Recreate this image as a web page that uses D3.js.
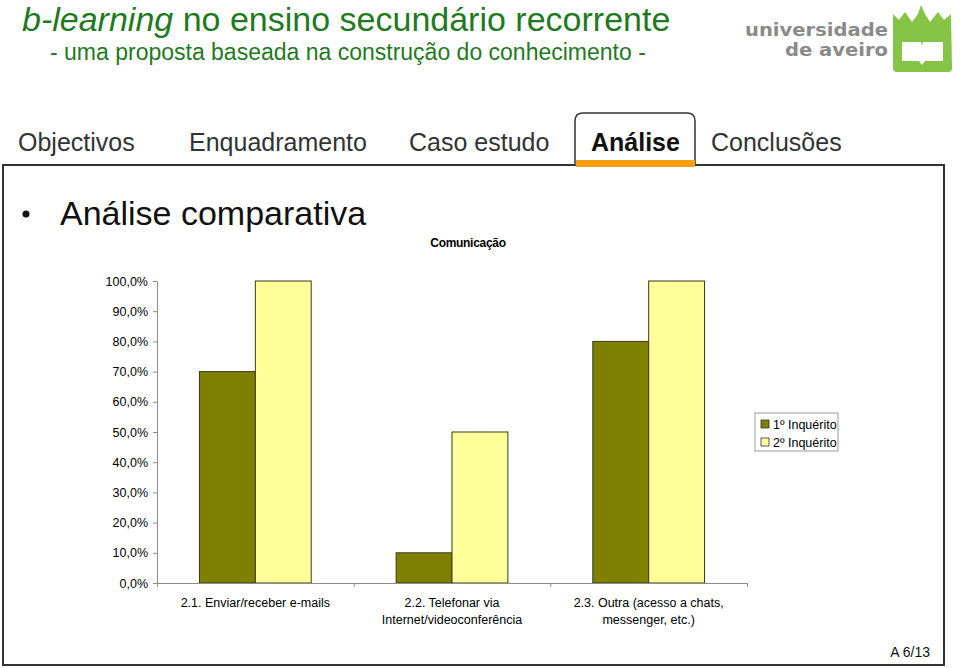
<!DOCTYPE html>
<html>
<head>
<meta charset="utf-8">
<script src="https://cdn.jsdelivr.net/npm/d3@7"></script>
<style>
  html, body { margin: 0; padding: 0; background: #fff; }
  svg { display: block; font-family: "Liberation Sans", Arial, sans-serif; }
</style>
</head>
<body>
<svg id="slide" width="960" height="668"></svg>
<script>
// dados do gráfico
const categories = [
  ["2.1. Enviar/receber e-mails"],
  ["2.2. Telefonar via", "Internet/videoconferência"],
  ["2.3. Outra (acesso a chats,", "messenger, etc.)"]
];
const seriesNames = ["1º Inquérito", "2º Inquérito"];
const inquerito1 = [0.70, 0.10, 0.80];
const inquerito2 = [1.00, 0.50, 1.00];
const yTicks = [0, 0.1, 0.2, 0.3, 0.4, 0.5, 0.6, 0.7, 0.8, 0.9, 1.0];
const navItems = ["Objectivos", "Enquadramento", "Caso estudo", "Análise", "Conclusões"];
const chartTitle = "Comunicação";

const colors = ["#808000", "#ffff99"];
const svg = d3.select("#slide");

// --- cabeçalho ---
const title = svg.append("text")
  .attr("x", 22).attr("y", 31)
  .attr("font-size", 34).attr("fill", "#1f7a1f");
title.append("tspan").attr("font-style", "italic").text("b-learning");
title.append("tspan").text(" no ensino secundário recorrente");

svg.append("text")
  .attr("x", 50).attr("y", 60)
  .attr("font-size", 23).attr("fill", "#1f7a1f")
  .text("- uma proposta baseada na construção do conhecimento -");

// logotipo (simplificado)
svg.append("text")
  .attr("x", 888).attr("y", 36).attr("text-anchor", "end")
  .attr("font-family", "DejaVu Sans").attr("font-weight", "bold")
  .attr("font-size", 17).attr("fill", "#8a8a8a")
  .attr("textLength", 143).attr("lengthAdjust", "spacingAndGlyphs")
  .text("universidade");
svg.append("text")
  .attr("x", 888).attr("y", 56).attr("text-anchor", "end")
  .attr("font-family", "DejaVu Sans").attr("font-weight", "bold")
  .attr("font-size", 17).attr("fill", "#8a8a8a")
  .attr("textLength", 103).attr("lengthAdjust", "spacingAndGlyphs")
  .text("de aveiro");

svg.append("path")
  .attr("d", "M893,14 L899,20 L905,12 L912,22 L918,14 L921,5 L925,14 L930,22 L938,12 L944,20 L951,14 " +
             "L952,68 Q952,72 948,72 L897,72 Q893,72 893,68 Z")
  .attr("fill", "#85c446");
svg.append("path")
  .attr("d", "M902,42 L921,42 L922,46 L923,42 L943,42 L943,61 L925,61 L922,65 L919,61 L902,61 Z")
  .attr("fill", "#fff");

// --- moldura e navegação ---
svg.append("rect")
  .attr("x", 3).attr("y", 165).attr("width", 941).attr("height", 500)
  .attr("fill", "none").attr("stroke", "#333").attr("stroke-width", 2);

svg.append("path")
  .attr("d", "M575,165 L575,121 Q575,113 583,113 L687,113 Q695,113 695,121 L695,165")
  .attr("fill", "#fff").attr("stroke", "#333").attr("stroke-width", 1.5);
svg.append("rect")
  .attr("x", 576).attr("y", 160).attr("width", 119).attr("height", 7)
  .attr("fill", "#f5a012");

const navX = [18, 189, 409, 591, 711];
navItems.forEach((d, i) => {
  svg.append("text")
    .attr("x", navX[i]).attr("y", 151)
    .attr("font-size", 25)
    .attr("font-weight", d === "Análise" ? "bold" : "normal")
    .attr("fill", d === "Análise" ? "#111" : "#333")
    .text(d);
});

// marcador
svg.append("circle").attr("cx", 26).attr("cy", 214).attr("r", 3.5).attr("fill", "#111");
svg.append("text")
  .attr("x", 60).attr("y", 225)
  .attr("font-size", 34).attr("fill", "#111")
  .text("Análise comparativa");

// --- gráfico ---
const chart = svg.append("g").attr("font-size", 12.5).attr("fill", "#000");

const y = d3.scaleLinear().domain([0, 1]).range([583, 281]);
const x0 = d3.scaleBand().domain(d3.range(categories.length)).range([157, 747]);
const x1 = d3.scaleBand().domain(d3.range(seriesNames.length))
  .range([0, x0.bandwidth()]).paddingOuter(0.76);
const xEdge = d3.scaleLinear().domain([0, categories.length]).range([157, 747]);

chart.append("text")
  .attr("x", 468).attr("y", 247).attr("text-anchor", "middle")
  .attr("font-weight", "bold").attr("font-size", 12).attr("letter-spacing", -0.3)
  .text(chartTitle);

// eixo y
const yAxis = chart.append("g")
  .attr("transform", "translate(157,0)")
  .call(d3.axisLeft(y).tickValues(yTicks).tickSize(4).tickSizeOuter(0)
    .tickFormat(d => d3.format(".1f")(d * 100).replace(".", ",") + "%"));
yAxis.selectAll("path, line").attr("stroke", "#8c8c8c");
yAxis.selectAll("text")
  .attr("font-family", "Liberation Sans, Arial, sans-serif")
  .attr("font-size", 12.5).attr("fill", "#000").attr("x", -9);

// barras
const allSeries = [inquerito1, inquerito2];
const groups = chart.append("g").selectAll("g")
  .data(categories.map((c, i) => i))
  .join("g")
  .attr("transform", i => `translate(${x0(i)},0)`);

groups.selectAll("rect")
  .data(i => allSeries.map((s, k) => ({ k: k, v: s[i] })))
  .join("rect")
  .attr("x", d => x1(d.k))
  .attr("width", x1.bandwidth())
  .attr("y", d => y(d.v))
  .attr("height", d => y(0) - y(d.v))
  .attr("fill", d => colors[d.k])
  .attr("stroke", "#3a3a1a").attr("stroke-width", 1);

// eixo x
const xAxis = chart.append("g")
  .attr("transform", "translate(0,583)")
  .call(d3.axisBottom(xEdge).tickValues(d3.range(categories.length + 1))
    .tickSize(4).tickSizeOuter(0).tickFormat(""));
xAxis.selectAll("path, line").attr("stroke", "#8c8c8c");

// rótulos das categorias
categories.forEach((lines, i) => {
  const t = chart.append("text")
    .attr("x", x0(i) + x0.bandwidth() / 2)
    .attr("y", 607)
    .attr("text-anchor", "middle");
  lines.forEach((l, j) => {
    t.append("tspan")
      .attr("x", x0(i) + x0.bandwidth() / 2)
      .attr("dy", j === 0 ? 0 : 17)
      .text(l);
  });
});

// legenda
const legend = chart.append("g").attr("transform", "translate(755,413)");
legend.append("rect")
  .attr("width", 83).attr("height", 38)
  .attr("fill", "#fff").attr("stroke", "#999").attr("stroke-width", 1);
seriesNames.forEach((name, i) => {
  legend.append("rect")
    .attr("x", 6).attr("y", 7 + i * 18).attr("width", 8).attr("height", 8)
    .attr("fill", colors[i]).attr("stroke", "#333").attr("stroke-width", 0.8);
  legend.append("text")
    .attr("x", 18).attr("y", 15.5 + i * 18)
    .text(name);
});

// número do diapositivo
svg.append("text")
  .attr("x", 930).attr("y", 657).attr("text-anchor", "end")
  .attr("font-size", 14).attr("fill", "#111")
  .text("A 6/13");
</script>
</body>
</html>
